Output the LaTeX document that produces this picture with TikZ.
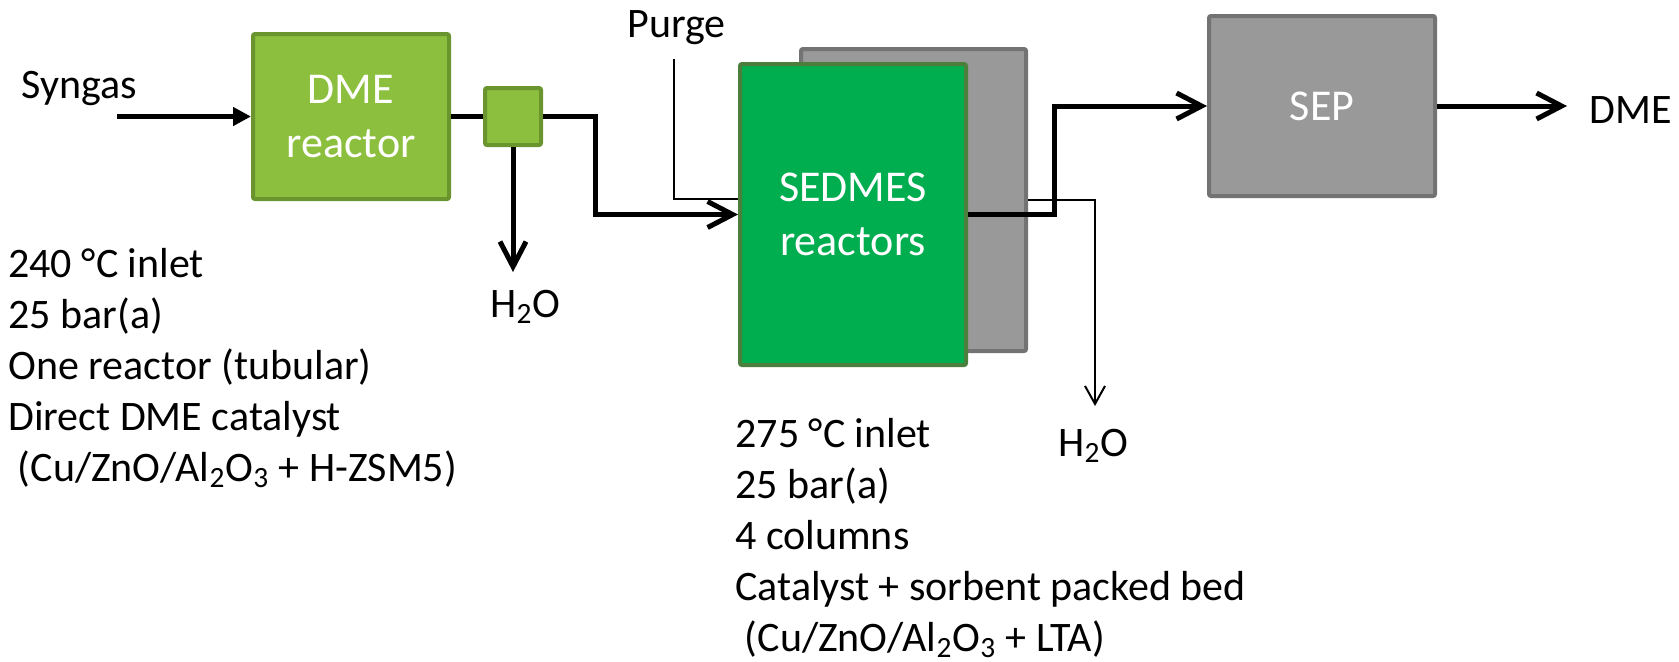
\documentclass[tikz,border=0pt]{standalone}
\usepackage{fontspec}
\setmainfont{Carlito}
\usetikzlibrary{arrows.meta,calc}
\definecolor{figReactor}{HTML}{8DBF3F}
\definecolor{figReactorEdge}{HTML}{6A952E}
\definecolor{figSedmes}{HTML}{00AD4F}
\definecolor{figSedmesEdge}{HTML}{4B7F3B}
\definecolor{figGrey}{HTML}{999999}
\definecolor{figGreyEdge}{HTML}{737373}
\definecolor{figInk}{HTML}{000000}
\newcommand\labelfont{\fontsize{21pt}{25.5pt}\selectfont}
\newcommand\boxfont{\fontsize{22pt}{27pt}\selectfont}
\tikzset{
  procbox/.style={draw=#1Edge,fill=#1,line width=2pt,rounded corners=1pt,inner sep=0pt,text=white,font=\boxfont,align=center},
  figtext/.style={inner sep=0pt,text=figInk,font=\labelfont,anchor=base west,align=left},
  stream/.style={figInk,line width=2.5pt},
  side/.style={figInk,line width=1pt},
  feedtip/.tip={Triangle[length=9pt,width=9pt]},
  bigbarb/.tip={Straight Barb[length=12.5pt,width=13pt]},
  smallbarb/.tip={Straight Barb[length=9pt,width=10pt]}
}

\begin{document}
\begin{tikzpicture}[x=0.5pt,y=-0.5pt]
    \useasboundingbox (0,0) rectangle (1679,661);
    % process units (grey bank sits behind the SEDMES columns)
    \node[procbox=figGrey,minimum width=112.5pt,minimum height=151pt] (bank) at (913.5,200) {};
    \node[procbox=figReactor,minimum width=98pt,minimum height=82.5pt] (reactor) at (351,116.5) {DME\\reactor};
    \node[procbox=figReactor,minimum width=28pt,minimum height=28.5pt] (flash) at (513,116.5) {};
    \node[procbox=figSedmes,minimum width=113pt,minimum height=150.5pt] (sedmes) at (853,214.5) {SEDMES\\reactors};
    \node[procbox=figGrey,minimum width=113pt,minimum height=90pt] (sep) at (1322,106) {SEP};
    % stream names
    \node[figtext] (syngas) at (21,98) {Syngas};
    \node[figtext] (purge) at (627,37) {Purge};
    \node[figtext] (product) at (1589,123) {DME};
    \node[figtext] (water1) at (490,317) {H\textsubscript{2}O};
    \node[figtext] (water2) at (1058,456) {H\textsubscript{2}O};
    % operating conditions under each step (base = last line)
    \node[figtext] (cond1) at (8,481) {240 °C inlet\\25 bar(a)\\One reactor (tubular)\\Direct DME catalyst\\~(Cu/ZnO/Al\textsubscript{2}O\textsubscript{3} + H-ZSM5)};
    \node[figtext] (cond2) at (735,651) {275 °C inlet\\25 bar(a)\\4 columns\\Catalyst + sorbent packed bed\\~(Cu/ZnO/Al\textsubscript{2}O\textsubscript{3} + LTA)};
    % free ends of the streams
    \coordinate (feed) at (117,116.5);
    \coordinate (drain) at (513,272);
    \coordinate (purgetop) at (674,59);
    \coordinate (sorbwater) at (1095,406);
    \coordinate (dmeout) at (1567,106);
    % main line
    \draw[stream,-feedtip] (feed) -- (reactor.west);
    \draw[stream] (reactor.east) -- (flash.west);
    \draw[stream,-bigbarb] (flash.east) -- ++(52,0) |- (sedmes.west);
    \draw[stream,-bigbarb] (flash.south) -- (drain);
    \draw[stream,-bigbarb] (sedmes.east) -- ++(86,0) |- (sep.west);
    \draw[stream,-bigbarb] (sep.east) -- (dmeout);
    % thin side streams
    \draw[side] (purgetop) |- ($(sedmes.west)+(0,-15.5)$);
    \draw[side,-smallbarb] (bank.east) -| (sorbwater);
\end{tikzpicture}
\end{document}
